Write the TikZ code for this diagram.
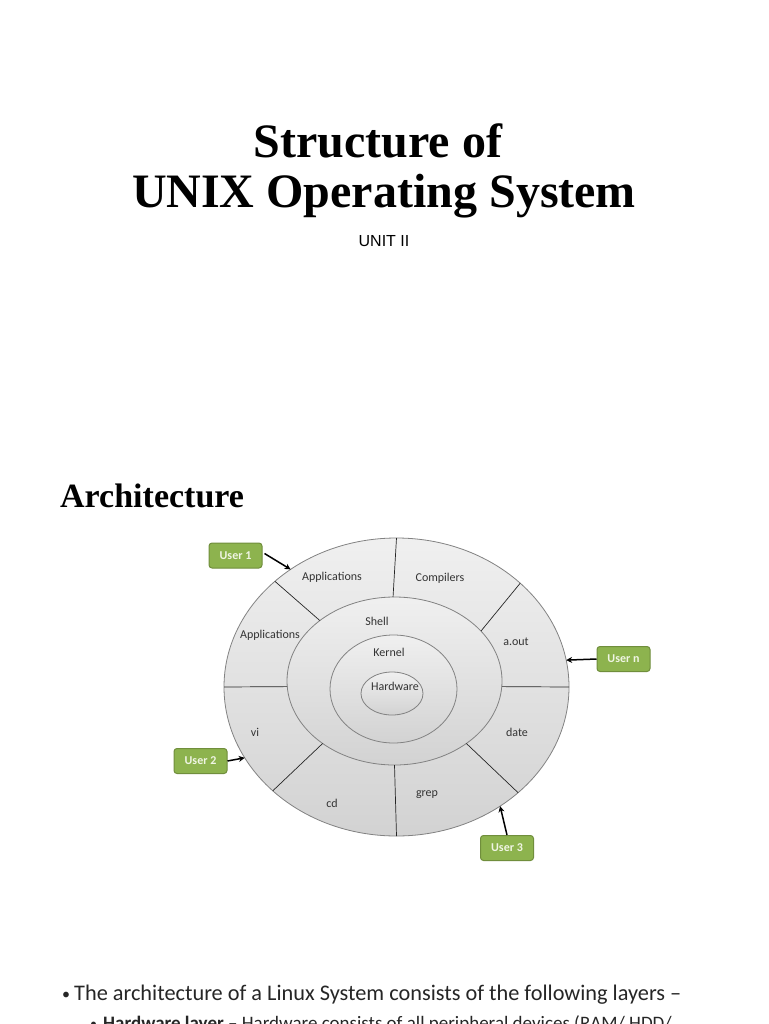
\documentclass[tikz,border=0pt]{standalone}
\usepackage{fontspec}
\setmainfont{Liberation Serif}
\newfontfamily\calib{Carlito}
\newfontfamily\arialf{Liberation Sans}
\usetikzlibrary{shapes.geometric,arrows.meta}
\definecolor{userfill}{RGB}{141,179,78}
\definecolor{userdraw}{RGB}{112,142,60}
\definecolor{usertext}{RGB}{240,245,228}
\definecolor{ringdraw}{RGB}{130,130,130}
\begin{document}
\begin{tikzpicture}[x=1pt,y=-1pt,
  ring/.style={ellipse, draw=ringdraw, line width=0.8pt, inner sep=0pt, outer sep=0pt, top color=gray!12, bottom color=gray!35},
  userbox/.style={rectangle, rounded corners=3pt, draw=userdraw, fill=userfill, text=usertext, line width=1pt, minimum width=53pt, minimum height=25pt, inner sep=0pt, font=\calib\bfseries\fontsize{12}{14}\selectfont},
  lbl/.style={inner sep=0pt, text=black!80, font=\calib\fontsize{12}{14}\selectfont},
  divider/.style={draw=black!85, line width=0.7pt},
  arr/.style={draw=black, line width=1.5pt, -{Stealth[length=6pt,width=6pt]}},
  title/.style={inner sep=0pt, anchor=base, font=\bfseries\fontsize{48}{56}\selectfont},
  body/.style={inner sep=0pt, anchor=base west, text=black!85}
]
\useasboundingbox[fill=white] (0,0) rectangle (768,1024);

% titles
\node[title] (t1) at (378,158) {Structure of};
\node[title] (t2) at (384,208) {UNIX Operating System};
\node[inner sep=0pt, anchor=base, font=\arialf\fontsize{16}{18}\selectfont] (unit) at (384,246) {UNIT II};
\node[inner sep=0pt, anchor=base west, font=\bfseries\fontsize{34}{40}\selectfont] (arch) at (60,507) {Architecture};

% rings
\node[ring, minimum width=345pt, minimum height=298pt] (outer) at (396.5,687) {};
\node[ring, minimum width=215pt, minimum height=168pt] (shell) at (394.5,681) {};
\node[ring, minimum width=127pt, minimum height=108pt] (kernel) at (393.5,689) {};
\node[ring, minimum width=62pt, minimum height=43pt] (hw) at (392,693.5) {};

% dividers
\draw[divider] (outer.90) -- (shell.91);
\draw[divider] (outer.270) -- (shell.270);
\draw[divider] (outer.180) -- (shell.183);
\draw[divider] (outer.0) -- (shell.357);
\draw[divider] (outer.139.2) -- (shell.141.4);
\draw[divider] (outer.40.8) -- (shell.30.4);
\draw[divider] (outer.220.8) -- (shell.221.2);
\draw[divider] (outer.319.6) -- (shell.319.2);

% labels
\node[lbl] (lapp1) at (332,577) {Applications};
\node[lbl] (lcomp) at (440,578) {Compilers};
\node[lbl] (lapp2) at (270,635) {Applications};
\node[lbl] (laout) at (516,642) {a.out};
\node[lbl] (lshell) at (377,621) {Shell};
\node[lbl] (lkern) at (389,652) {Kernel};
\node[lbl] (lhw) at (395,686) {Hardware};
\node[lbl] (lvi) at (255,732) {vi};
\node[lbl] (ldate) at (517,732) {date};
\node[lbl] (lcd) at (332,803) {cd};
\node[lbl] (lgrep) at (427,795) {grep};

% users
\node[userbox] (u1) at (235.5,555.5) {User 1};
\node[userbox] (un) at (623.5,659) {User n};
\node[userbox] (u2) at (200.5,761) {User 2};
\node[userbox] (u3) at (507,848) {User 3};

\draw[arr] (u1.east) ++(2,-2) coordinate (u1s) (u1s) -- (outer.132.6);
\draw[arr] (un.west) -- (outer.9.4);
\draw[arr] (u2.east) -- (outer.205.9);
\draw[arr] (u3.north) -- (outer.311.8);

% body text
\node[body, font=\calib\fontsize{16}{20}\selectfont] (b1) at (62,999) {•};
\node[body, font=\calib\fontsize{22.3}{26}\selectfont] (l1) at (74,1000) {The architecture of a Linux System consists of the following layers –};
\node[body, font=\calib\fontsize{14}{18}\selectfont] (b2) at (90,1028) {•};
\node[body, font=\calib\fontsize{19}{23}\selectfont] (l2) at (103,1029) {\textbf{Hardware layer} – Hardware consists of all peripheral devices (RAM/ HDD/};
\end{tikzpicture}
\end{document}
